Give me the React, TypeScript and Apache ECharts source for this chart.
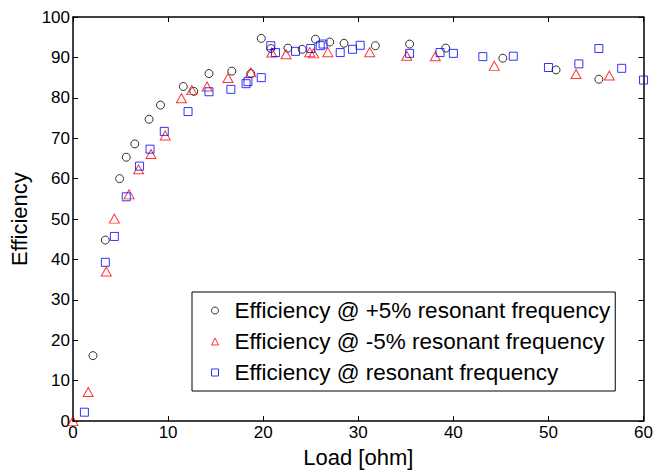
import React, { useEffect, useRef } from "react";
import * as echarts from "echarts";

// +5% resonant frequency (black circles)
const plusLoad = [2.1, 3.4, 4.9, 5.6, 6.5, 8.0, 9.2, 11.6, 12.7, 14.3, 16.7, 18.7, 19.8, 20.8, 22.6, 24.1, 25.5, 27.0, 28.5, 31.8, 35.4, 39.2, 45.2, 50.8, 55.3];
const plusEff = [16.2, 44.8, 60.0, 65.3, 68.6, 74.7, 78.2, 82.8, 81.6, 86.0, 86.6, 86.0, 94.7, 92.2, 92.3, 92.0, 94.5, 93.8, 93.5, 92.9, 93.3, 92.3, 89.8, 86.9, 84.6];

// -5% resonant frequency (red triangles)
const minusLoad = [0, 1.6, 3.5, 4.35, 5.9, 6.9, 8.2, 9.7, 11.4, 12.5, 14.1, 16.3, 18.7, 20.9, 22.4, 24.9, 25.3, 26.8, 31.2, 35.1, 38.1, 44.3, 52.9, 56.4];
const minusEff = [0, 7.2, 37.0, 50.1, 56.1, 62.3, 66.1, 70.7, 79.9, 81.9, 82.8, 84.9, 86.3, 91.2, 90.8, 91.3, 91.0, 91.3, 91.3, 90.4, 90.3, 87.9, 85.9, 85.5];

// resonant frequency (blue squares)
const resLoad = [1.2, 3.4, 4.35, 5.6, 7.0, 8.1, 9.6, 12.1, 14.3, 16.6, 18.2, 18.4, 19.8, 20.8, 21.3, 23.4, 25.0, 26.0, 26.3, 28.1, 29.4, 30.2, 35.4, 38.6, 40.0, 43.1, 46.3, 50.0, 53.2, 55.3, 57.7, 60.0];
const resEff = [2.2, 39.3, 45.7, 55.5, 63.1, 67.3, 71.7, 76.6, 81.5, 82.1, 83.5, 84.0, 85.0, 92.9, 91.2, 91.5, 92.2, 92.9, 93.3, 91.2, 92.0, 93.0, 91.0, 91.2, 91.0, 90.2, 90.3, 87.5, 88.4, 92.2, 87.3, 84.4];

const seriesNames = [
  "Efficiency @ +5% resonant frequency",
  "Efficiency @ -5% resonant frequency",
  "Efficiency @ resonant frequency",
];

const xTicks = { min: 0, max: 60, interval: 10 };
const yTicks = { min: 0, max: 100, interval: 10 };

const FONT = "Liberation Sans, Arial, sans-serif";

const zip = (xs: number[], ys: number[]) => xs.map((x, i) => [x, ys[i]]);

export default function App() {
  const ref = useRef<HTMLDivElement>(null);
  useEffect(() => {
    if (!ref.current) return;
    const chart = echarts.init(ref.current, undefined, { renderer: "svg" });
    const axisLine = { show: true, onZero: false, lineStyle: { color: "#000", width: 1.5 } };
    const tick = { show: true, inside: true, length: 5, lineStyle: { color: "#000", width: 1 } };
    chart.setOption({
      animation: false,
      backgroundColor: "#fff",
      textStyle: { fontFamily: FONT },
      grid: { left: 73, right: 12, top: 17, bottom: 48, containLabel: false },
      xAxis: [
        {
          type: "value",
          position: "bottom",
          ...xTicks,
          axisLine,
          axisTick: tick,
          splitLine: { show: false },
          axisLabel: { color: "#000", fontSize: 17, fontFamily: FONT, margin: 3 },
          name: "Load [ohm]",
          nameLocation: "middle",
          nameGap: 24,
          nameTextStyle: { color: "#000", fontSize: 22, fontFamily: FONT },
        },
        {
          type: "value",
          position: "top",
          ...xTicks,
          axisLine,
          axisTick: tick,
          splitLine: { show: false },
          axisLabel: { show: false },
        },
      ],
      yAxis: [
        {
          type: "value",
          position: "left",
          ...yTicks,
          axisLine,
          axisTick: tick,
          splitLine: { show: false },
          axisLabel: { color: "#000", fontSize: 17, fontFamily: FONT, margin: 3 },
          name: "Efficiency",
          nameLocation: "middle",
          nameGap: 38,
          nameTextStyle: { color: "#000", fontSize: 22, fontFamily: FONT },
        },
        {
          type: "value",
          position: "right",
          ...yTicks,
          axisLine,
          axisTick: tick,
          splitLine: { show: false },
          axisLabel: { show: false },
        },
      ],
      legend: {
        orient: "vertical",
        left: 192,
        top: 292,
        padding: [7, 5, 7, 19],
        itemGap: 8,
        itemWidth: 7,
        itemHeight: 7,
        borderColor: "#000",
        borderWidth: 1,
        backgroundColor: "#fff",
        itemStyle: { borderWidth: 1 },
        textStyle: { color: "#000", fontSize: 22.5, lineHeight: 22, fontFamily: FONT, padding: [0, 0, 0, 11] },
        data: seriesNames,
      },
      series: [
        {
          name: seriesNames[0],
          type: "scatter",
          symbol: "circle",
          symbolSize: 8,
          itemStyle: { color: "rgba(0,0,0,0)", borderColor: "#000", borderWidth: 1 },
          data: zip(plusLoad, plusEff),
        },
        {
          name: seriesNames[1],
          type: "scatter",
          symbol: "triangle",
          symbolSize: [10, 9],
          itemStyle: { color: "rgba(0,0,0,0)", borderColor: "#ff0000", borderWidth: 1 },
          data: zip(minusLoad, minusEff),
        },
        {
          name: seriesNames[2],
          type: "scatter",
          symbol: "rect",
          symbolSize: 8,
          itemStyle: { color: "rgba(0,0,0,0)", borderColor: "#0000ff", borderWidth: 1 },
          data: zip(resLoad, resEff),
        },
      ],
    });
    return () => chart.dispose();
  }, []);
  return (
    <div
      ref={ref}
      style={{ position: "fixed", left: 0, top: 0, width: 656, height: 473, background: "#fff" }}
    />
  );
}
